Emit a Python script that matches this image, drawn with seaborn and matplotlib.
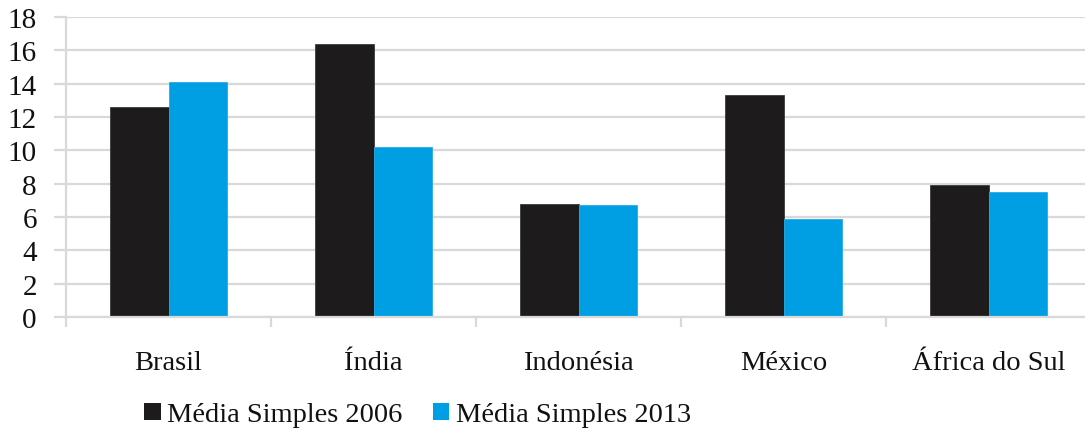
import matplotlib
matplotlib.use("Agg")
import matplotlib.pyplot as plt
import seaborn as sns
import pandas as pd
from matplotlib.patches import Patch
from matplotlib.ticker import FixedLocator

categories = ["Brasil", "Índia", "Indonésia", "México", "África do Sul"]
series_names = ["Média Simples 2006", "Média Simples 2013"]
values_2006 = [12.6, 16.4, 6.8, 13.3, 7.9]
values_2013 = [14.1, 10.2, 6.7, 5.9, 7.5]
y_ticks = [0, 2, 4, 6, 8, 10, 12, 14, 16, 18]

colors = ["#1d1b1c", "#009fe3"]

df = pd.DataFrame({
    "pais": categories * 2,
    "serie": [series_names[0]] * len(categories) + [series_names[1]] * len(categories),
    "valor": values_2006 + values_2013,
})

sns.set_theme(style="white")
plt.rcParams["font.family"] = ["Liberation Serif", "DejaVu Serif"]

fig = plt.figure(figsize=(10.85, 4.31), dpi=100)
ax = fig.add_axes([66 / 1085, 113 / 431, (1085 - 66) / 1085, 300 / 431])

sns.barplot(data=df, x="pais", y="valor", hue="serie", palette=colors,
            width=0.57, gap=0, ax=ax, legend=False, edgecolor="#3a3a3a",
            linewidth=0.6, saturation=1)
# lighter edge on the blue bars
n = len(categories)
for p in ax.patches[n:2 * n]:
    p.set_edgecolor("#2aa9e8")

ax.set_ylim(0, 18)
ax.set_xlim(-0.5, -0.5 + (1085 - 66) / 205)
ax.set_yticks(y_ticks)
ax.yaxis.grid(True, color="#d9d9d9", linewidth=1.6)
ax.set_axisbelow(True)
ax.set_xlabel("")
ax.set_ylabel("")

for s in ["top", "right"]:
    ax.spines[s].set_visible(False)
ax.spines["left"].set_color("#d9d9d9")
ax.spines["left"].set_linewidth(1.6)
ax.spines["bottom"].set_color("#d9d9d9")
ax.spines["bottom"].set_linewidth(1.6)

ax.tick_params(axis="y", which="major", left=True, length=9, width=1.6,
               color="#d9d9d9", labelsize=21, pad=12, labelcolor="#111111")
ax.tick_params(axis="x", which="major", bottom=False, labelsize=20.5, pad=18,
               labelcolor="#111111")
ax.xaxis.set_minor_locator(FixedLocator([i - 0.5 for i in range(len(categories) + 1)]))
ax.tick_params(axis="x", which="minor", bottom=True, length=7, width=1.6,
               color="#d9d9d9", direction="out")

handles = [Patch(facecolor=c, edgecolor="none") for c in colors]
fig.legend(handles, series_names, loc="center left",
           bbox_to_anchor=(144 / 1085, 1 - 416 / 431), ncol=2, frameon=False,
           fontsize=20.5, handlelength=0.58, handleheight=0.55, handletextpad=0.22,
           columnspacing=1.08, borderaxespad=0, borderpad=0,
           labelcolor="#111111")

fig.savefig("out.png", dpi=100)
